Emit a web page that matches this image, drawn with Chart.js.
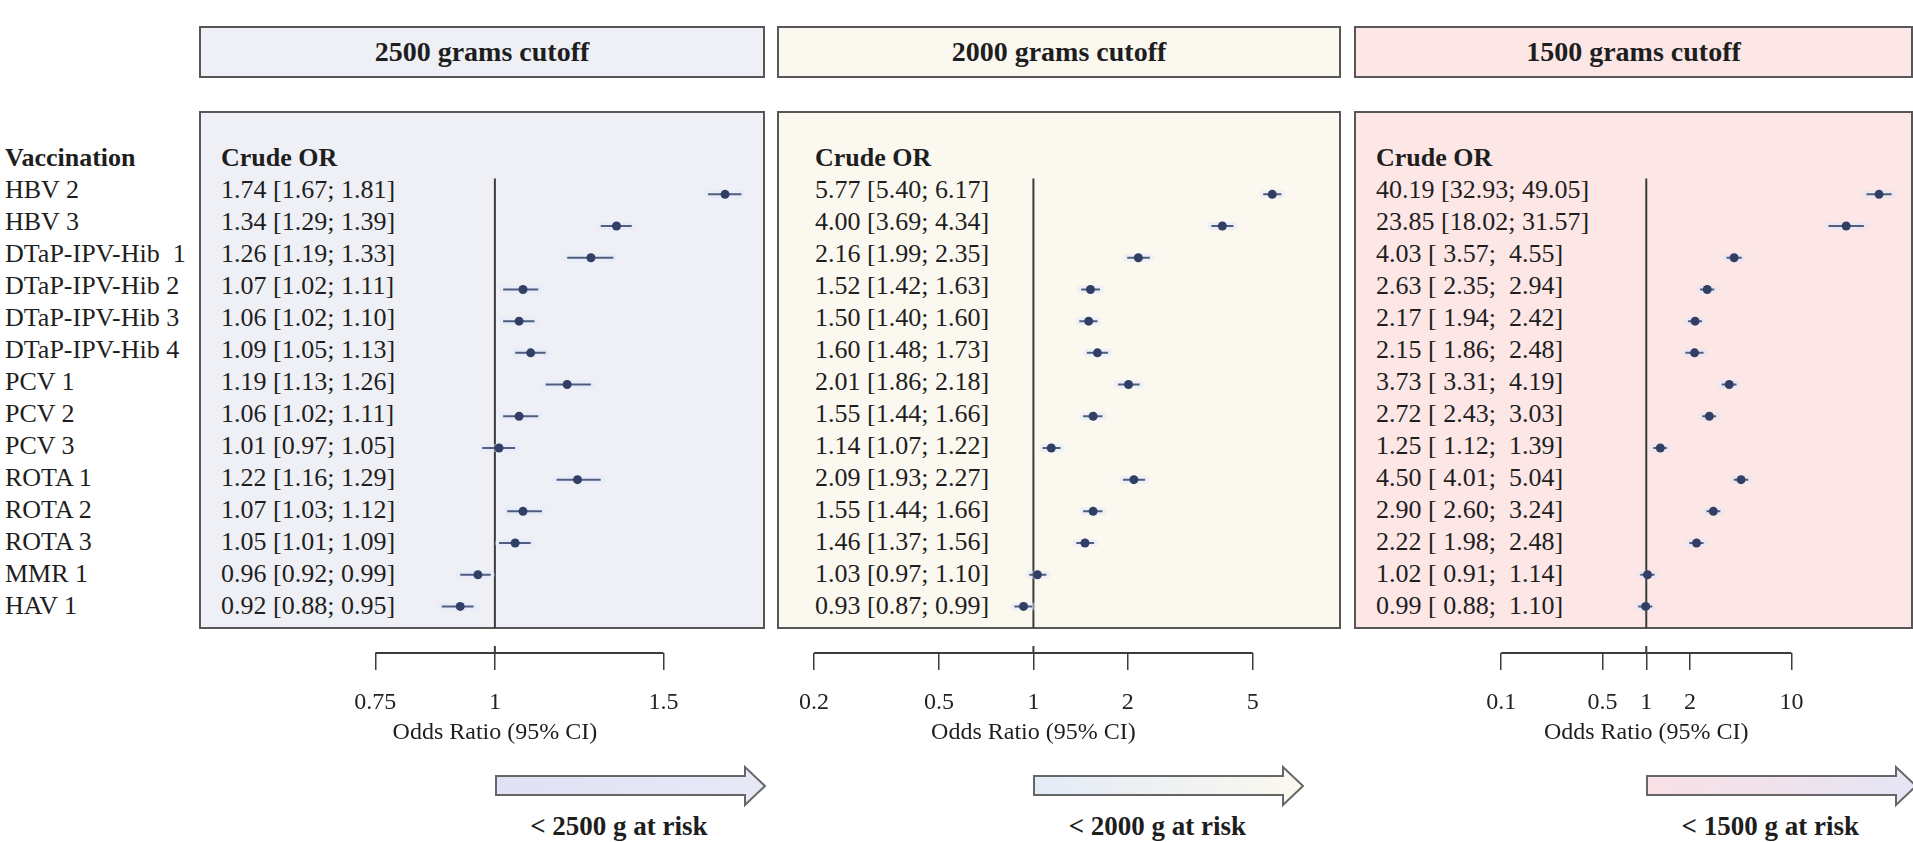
<!DOCTYPE html>
<html>
<head>
<meta charset="utf-8">
<script src="https://cdn.jsdelivr.net/npm/chart.js@4.4.0/dist/chart.umd.min.js"></script>
<style>
  body { margin: 0; background: #fff; }
  #fig { position: relative; width: 1913px; height: 842px; overflow: hidden;
         font-family: "Liberation Serif", "Times New Roman", serif; color: #1e1e1e; }
  .hdr { position: absolute; top: 26px; height: 52px; box-sizing: border-box;
         border: 2px solid #575757; font-weight: bold; font-size: 28px;
         display: flex; align-items: center; justify-content: center; }
  .panel { position: absolute; top: 111px; height: 518px; box-sizing: border-box;
           border: 2px solid #575757; }
  .col { position: absolute; top: 142px; font-size: 26px; line-height: 32px; white-space: pre; }
  .axtitle { position: absolute; top: 717px; font-size: 24px; line-height: 28px;
             white-space: pre; transform: translateX(-50%); }
  .risk { position: absolute; top: 810px; font-size: 27px; font-weight: bold; line-height: 32px;
          white-space: pre; transform: translateX(-50%); }
  canvas { position: absolute; top: 174px; }
  svg { position: absolute; top: 764px; overflow: visible; }
</style>
</head>
<body>
<div id="fig"></div>
<script>
// --- ДАННЫЕ ---
const vaccines = ['HBV 2', 'HBV 3', 'DTaP-IPV-Hib  1', 'DTaP-IPV-Hib 2', 'DTaP-IPV-Hib 3',
  'DTaP-IPV-Hib 4', 'PCV 1', 'PCV 2', 'PCV 3', 'ROTA 1', 'ROTA 2', 'ROTA 3', 'MMR 1', 'HAV 1'];

const or2500 = [1.74, 1.34, 1.26, 1.07, 1.06, 1.09, 1.19, 1.06, 1.01, 1.22, 1.07, 1.05, 0.96, 0.92];
const lo2500 = [1.67, 1.29, 1.19, 1.02, 1.02, 1.05, 1.13, 1.02, 0.97, 1.16, 1.03, 1.01, 0.92, 0.88];
const hi2500 = [1.81, 1.39, 1.33, 1.11, 1.10, 1.13, 1.26, 1.11, 1.05, 1.29, 1.12, 1.09, 0.99, 0.95];

const or2000 = [5.77, 4.00, 2.16, 1.52, 1.50, 1.60, 2.01, 1.55, 1.14, 2.09, 1.55, 1.46, 1.03, 0.93];
const lo2000 = [5.40, 3.69, 1.99, 1.42, 1.40, 1.48, 1.86, 1.44, 1.07, 1.93, 1.44, 1.37, 0.97, 0.87];
const hi2000 = [6.17, 4.34, 2.35, 1.63, 1.60, 1.73, 2.18, 1.66, 1.22, 2.27, 1.66, 1.56, 1.10, 0.99];

const or1500 = [40.19, 23.85, 4.03, 2.63, 2.17, 2.15, 3.73, 2.72, 1.25, 4.50, 2.90, 2.22, 1.02, 0.99];
const lo1500 = [32.93, 18.02, 3.57, 2.35, 1.94, 1.86, 3.31, 2.43, 1.12, 4.01, 2.60, 1.98, 0.91, 0.88];
const hi1500 = [49.05, 31.57, 4.55, 2.94, 2.42, 2.48, 4.19, 3.03, 1.39, 5.04, 3.24, 2.48, 1.14, 1.10];

const ticks2500 = [0.75, 1, 1.5];
const ticks2000 = [0.2, 0.5, 1, 2, 5];
const ticks1500 = [0.1, 0.5, 1, 2, 10];

const titles = ['2500 grams cutoff', '2000 grams cutoff', '1500 grams cutoff'];
const riskLabels = ['< 2500 g at risk', '< 2000 g at risk', '< 1500 g at risk'];

// --- РАЗМЕТКА ПАНЕЛЕЙ ---
const PANELS = [
  { or: or2500, lo: lo2500, hi: hi2500, ticks: ticks2500, box: [199, 765], plot: [200, 763],
    textX: 221, min: 0.4972, max: 1.8858, bg: '#eef0f6', arrow: ['#dfe2f4', '#e8e9f7'] },
  { or: or2000, lo: lo2000, hi: hi2000, ticks: ticks2000, box: [777, 1341], plot: [778, 1339],
    textX: 815, min: 0.15863, max: 9.110, bg: '#fbf8f0', arrow: ['#e3ebf7', '#fbf8ee'] },
  { or: or1500, lo: lo1500, hi: hi1500, ticks: ticks1500, box: [1354, 1913], plot: [1355, 1911],
    textX: 1376, min: 0.010561, max: 62.13, bg: '#fce6e6', arrow: ['#f9e0e6', '#e6e5f5'] }
];

const REF_LINE_END = 13.69;   // нижняя граница рамки в единицах строк
const fig = document.getElementById('fig');

function el(tag, cls, parent) {
  const e = document.createElement(tag);
  if (cls) e.className = cls;
  (parent || fig).appendChild(e);
  return e;
}

// Подписи строк слева
const left = el('div', 'col');
left.style.left = '5px';
left.innerHTML = '<b>Vaccination</b>\n' + vaccines.join('\n');

// Вертикальная линия OR = 1 и линия оси только между крайними делениями
const forestDecor = {
  id: 'forestDecor',
  beforeDatasetsDraw(chart) {
    const { ctx, chartArea, scales: { x, y } } = chart;
    const x1 = x.getPixelForValue(1);
    const t = x.ticks;
    ctx.save();
    ctx.strokeStyle = '#3c3c3c';
    ctx.lineWidth = 2;
    ctx.beginPath();
    ctx.moveTo(x1, chartArea.top);
    ctx.lineTo(x1, y.getPixelForValue(REF_LINE_END));
    ctx.stroke();
    ctx.beginPath();
    ctx.moveTo(x.getPixelForValue(t[0].value), x.top);
    ctx.lineTo(x.getPixelForValue(t[t.length - 1].value), x.top);
    ctx.moveTo(x1, x.top - 7);
    ctx.lineTo(x1, x.top);
    ctx.stroke();
    ctx.restore();
  }
};

const fmt = v => v.toFixed(2);

PANELS.forEach((p, k) => {
  const hdr = el('div', 'hdr');
  hdr.style.left = p.box[0] + 'px';
  hdr.style.width = (p.box[1] - p.box[0]) + 'px';
  hdr.style.background = p.bg;
  hdr.textContent = titles[k];

  const box = el('div', 'panel');
  box.style.left = p.box[0] + 'px';
  box.style.width = (p.box[1] - p.box[0]) + 'px';
  box.style.background = p.bg;

  // Колонка с OR и доверительными интервалами
  const w = Math.max(...p.lo.map(v => fmt(v).length), ...p.hi.map(v => fmt(v).length));
  const col = el('div', 'col');
  col.style.left = p.textX + 'px';
  col.innerHTML = '<b>Crude OR</b>\n' + p.or.map((v, i) =>
    `${fmt(v)} [${fmt(p.lo[i]).padStart(w)}; ${fmt(p.hi[i]).padStart(w)}]`).join('\n');

  const canvas = el('canvas');
  canvas.width = p.plot[1] - p.plot[0];
  canvas.height = 559;
  canvas.style.left = p.plot[0] + 'px';

  const datasets = [{
    data: p.or.map((v, i) => ({ x: v, y: i })),
    backgroundColor: '#313f66',
    pointRadius: 4.5,
    pointBorderWidth: 0,
    order: 0
  }];
  p.or.forEach((v, i) => {
    datasets.push({
      data: [{ x: p.lo[i], y: i }, { x: p.hi[i], y: i }],
      showLine: true, pointRadius: 0, borderColor: '#4f5d7e', borderWidth: 2, order: 1
    });
    datasets.push({
      data: [{ x: p.lo[i], y: i }, { x: p.hi[i], y: i }],
      showLine: true, pointRadius: 0, borderColor: 'rgba(222,230,250,0.45)', borderWidth: 8,
      borderCapStyle: 'round', order: 2
    });
  });

  const chart = new Chart(canvas, {
    type: 'scatter',
    data: { datasets },
    options: {
      responsive: false,
      animation: false,
      layout: { padding: 0 },
      plugins: { legend: { display: false }, tooltip: { enabled: false } },
      scales: {
        x: {
          type: 'logarithmic',
          min: p.min,
          max: p.max,
          position: 'bottom',
          afterBuildTicks: s => { s.ticks = p.ticks.map(v => ({ value: v })); },
          afterFit: s => { s.height = 80; },
          border: { display: false },
          grid: { drawOnChartArea: false, drawTicks: true, tickLength: 17, color: '#3c3c3c', lineWidth: 1.5 },
          ticks: {
            autoSkip: false, maxRotation: 0, padding: 18, color: '#222',
            font: { family: 'Liberation Serif', size: 24 },
            callback: v => String(v)
          }
        },
        y: { type: 'linear', reverse: true, min: -0.5, max: 14.46875, display: false }
      }
    },
    plugins: [forestDecor]
  });

  // Подпись оси по центру линии OR = 1 и стрелка риска
  const x1 = p.plot[0] + chart.scales.x.getPixelForValue(1);
  const t = el('div', 'axtitle');
  t.style.left = x1 + 'px';
  t.textContent = 'Odds Ratio (95% CI)';

  const ns = 'http://www.w3.org/2000/svg';
  const svg = document.createElementNS(ns, 'svg');
  svg.setAttribute('width', 275);
  svg.setAttribute('height', 44);
  svg.style.left = x1 + 'px';
  svg.innerHTML =
    `<defs><linearGradient id="g${k}" x1="0" x2="1" y1="0" y2="0">
       <stop offset="0" stop-color="${p.arrow[0]}"/><stop offset="1" stop-color="${p.arrow[1]}"/>
     </linearGradient></defs>
     <polygon points="1,12 250,12 250,3 270,22 250,41 250,31 1,31"
       fill="url(#g${k})" stroke="#666" stroke-width="2" stroke-linejoin="miter"/>`;
  fig.appendChild(svg);

  const r = el('div', 'risk');
  r.style.left = (x1 + 124) + 'px';
  r.textContent = riskLabels[k];
});
</script>
</body>
</html>
